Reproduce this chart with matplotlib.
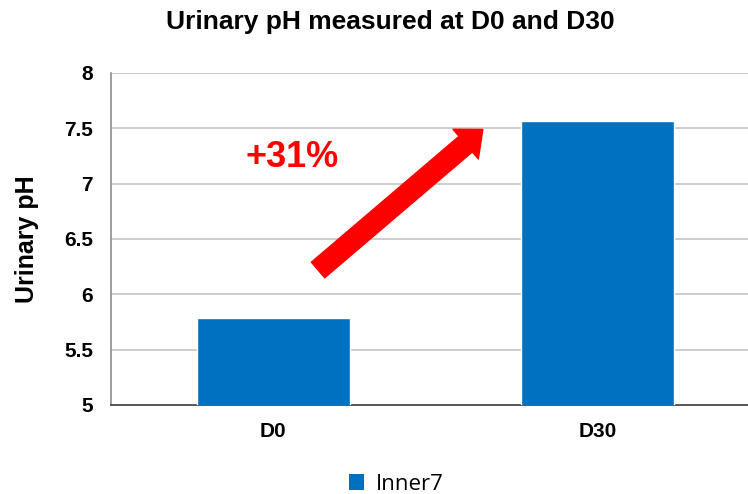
import matplotlib.pyplot as plt
from matplotlib.patches import Patch

# Data
categories = ['D0', 'D30']
ph_values = [5.79, 7.57]
series_name = 'Inner7'
y_ticks = [5, 5.5, 6, 6.5, 7, 7.5, 8]
y_tick_labels = ['5', '5.5', '6', '6.5', '7', '7.5', '8']

bar_color = '#0070C0'
pct = round((ph_values[1] / ph_values[0] - 1) * 100)

plt.rcParams['font.family'] = ['Liberation Sans', 'DejaVu Sans']

fig = plt.figure(figsize=(7.48, 4.94), dpi=100)
ax = fig.add_axes([111 / 748, 89 / 494, 649 / 748, 332 / 494])

x = range(len(categories))
ax.bar(x, ph_values, width=0.47, color=bar_color, edgecolor='white',
       linewidth=1, zorder=3)

ax.set_xlim(-0.5, 1.5)
ax.set_ylim(5, 8)
ax.set_yticks(y_ticks)
ax.set_yticklabels(y_tick_labels, fontsize=15, fontweight='bold')
ax.set_xticks(list(x))
ax.set_xticklabels(categories, fontsize=15, fontweight='bold')
ax.tick_params(axis='y', length=0, pad=13)
ax.tick_params(axis='x', length=0, pad=12)

ax.grid(axis='y', color='#c0c0c0', linewidth=1.1, zorder=0)
ax.set_axisbelow(True)
for side in ['top', 'right']:
    ax.spines[side].set_visible(False)
ax.spines['left'].set_color('#8c8c8c')
ax.spines['left'].set_linewidth(1.2)
ax.spines['bottom'].set_color('#404040')
ax.spines['bottom'].set_linewidth(1.2)

ax.set_ylabel('Urinary pH', fontsize=18, fontweight='bold')
ax.yaxis.set_label_coords(-72 / 649, 0.5)

fig.text(390 / 748, 1 - 22 / 494, 'Urinary pH measured at D0 and D30',
         ha='center', va='center', fontsize=19, fontweight='bold')

# red arrow and percentage label
arrow_start = (0.138, 6.22)
arrow_end = (0.646, 7.49)
ax.annotate('', xy=arrow_end, xytext=arrow_start,
            arrowprops=dict(arrowstyle='simple,head_length=1.1,head_width=1.9,tail_width=1',
                            mutation_scale=14.8, color='red',
                            shrinkA=0, shrinkB=0), zorder=5)
ax.text(0.058, 7.24, f'+{pct}%', color='red', fontsize=26, fontweight='bold',
        ha='center', va='center', zorder=5)

handles = [Patch(facecolor=bar_color, label=series_name)]
fig.legend(handles=handles, loc='center', bbox_to_anchor=(396 / 748, 1 - 484 / 494),
           frameon=False, handlelength=0.7, handleheight=0.7, handletextpad=0.5,
           prop={'family': 'Open Sans', 'size': 16})

fig.savefig('out.png', dpi=100)
